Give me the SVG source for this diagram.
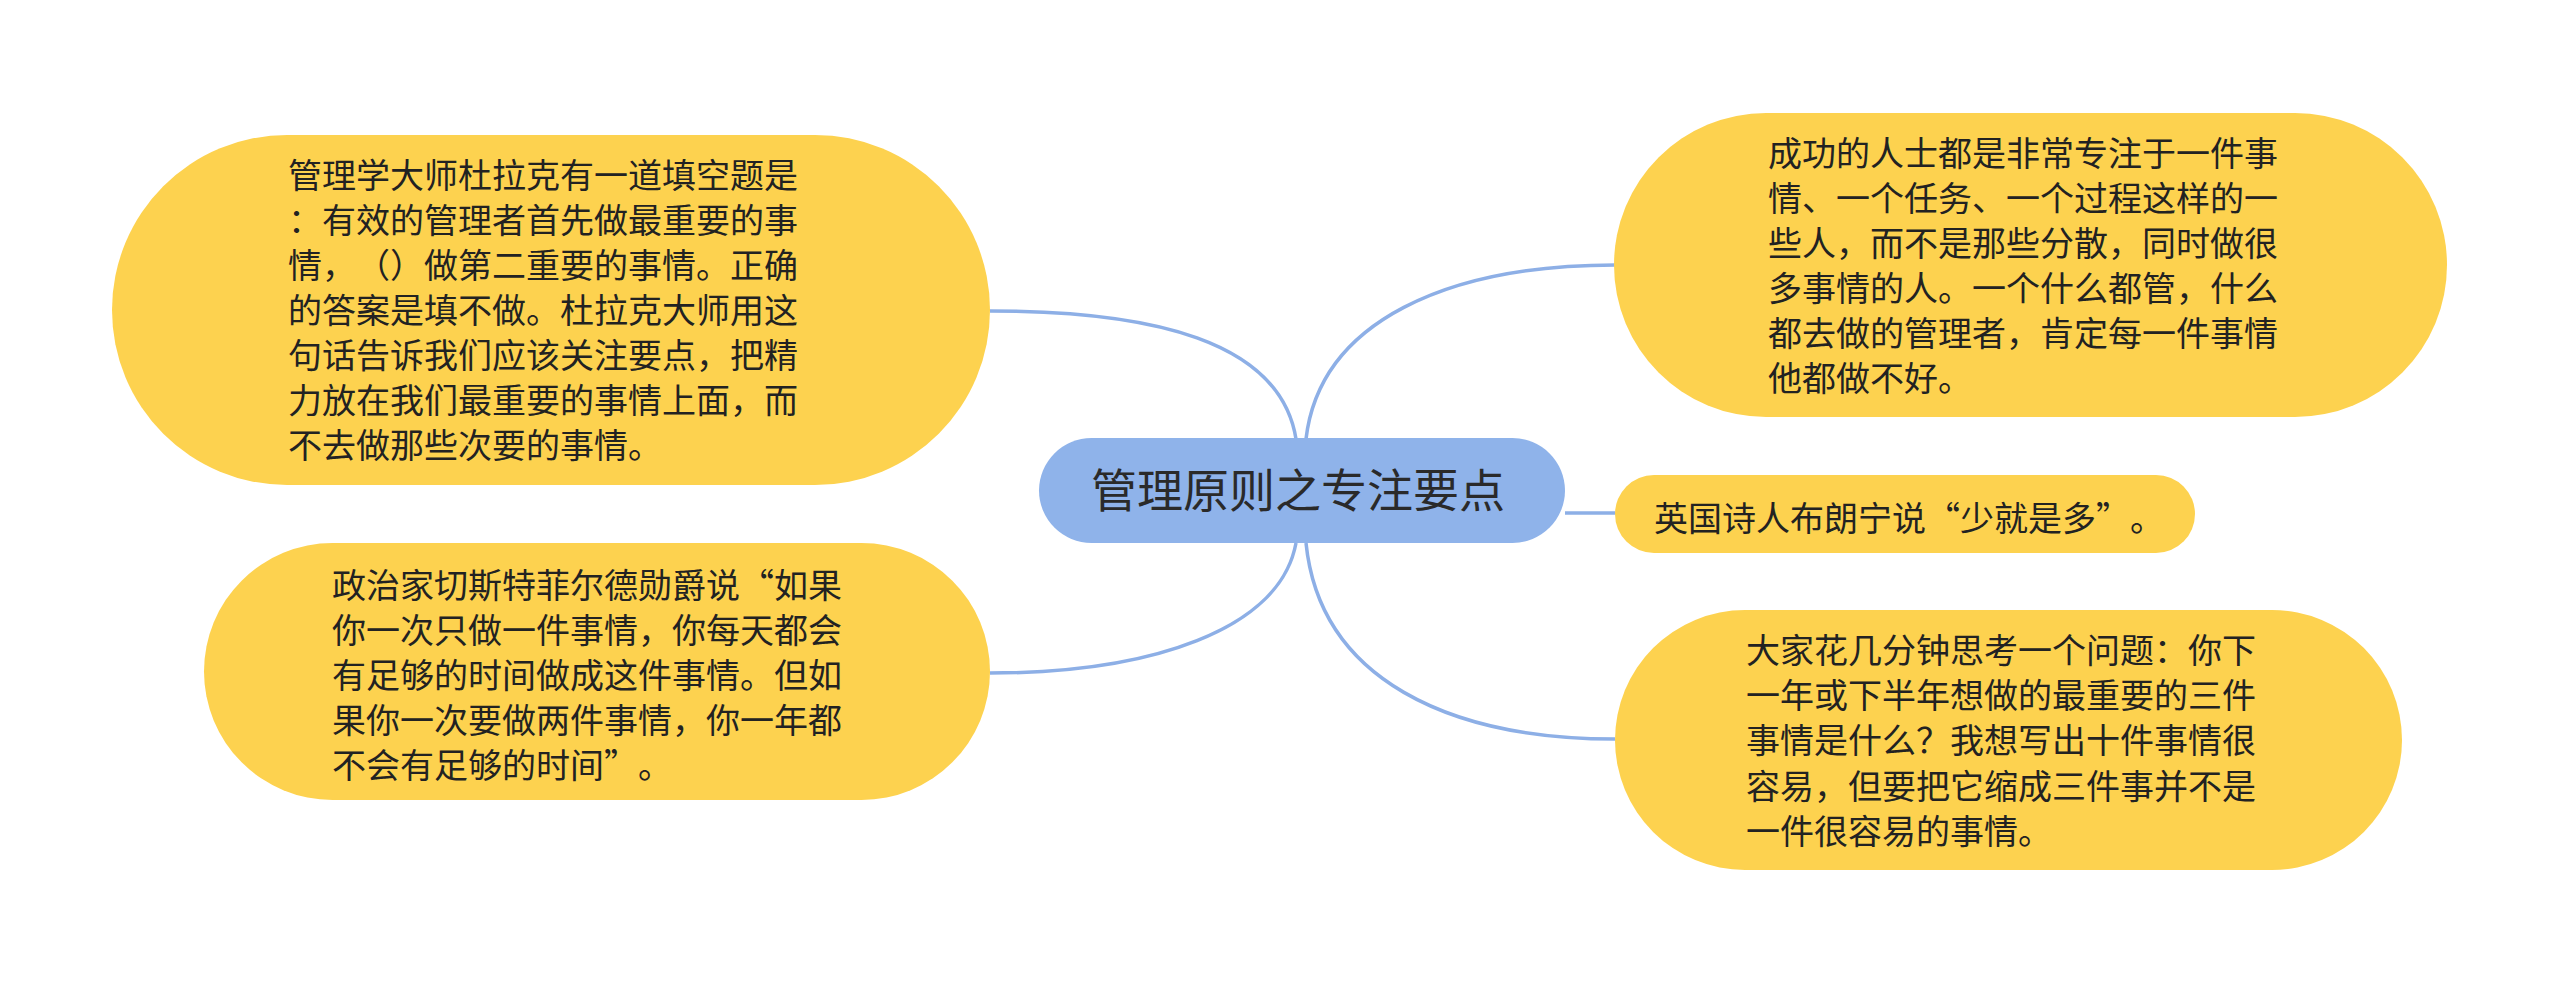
<svg xmlns="http://www.w3.org/2000/svg" width="2560" height="983" viewBox="0 0 2560 983">
<style>
.leaf{fill:#fdd24f;}
.root{fill:#8fb3ea;}
.t{font-family:"Noto Sans CJK SC","Noto Sans",sans-serif;font-size:34px;fill:#222222;text-spacing-trim:space-all;}
.rt{font-family:"Noto Sans CJK SC","Noto Sans",sans-serif;font-size:46px;fill:#2a2a2a;}
.edge{fill:none;stroke:#8dafe6;stroke-width:3.5;}
</style>
<rect x="0" y="0" width="2560" height="983" fill="#ffffff"/>
<g id="connectors">
<path class="edge" d="M1296,439 C1280,340 1150,311 990,311"/>
<path class="edge" d="M1296,543 C1280,630 1150,673 990,673"/>
<path class="edge" d="M1306,439 C1320,320 1450,265 1615,265"/>
<path class="edge" d="M1565,513 L1615,513"/>
<path class="edge" d="M1306,543 C1320,680 1450,739 1615,739"/>
</g>
<g id="root">
<rect class="root" x="1039" y="438" width="526" height="105" rx="52.5"/>
<text class="rt" x="1298" y="507" text-anchor="middle">管理原则之专注要点</text>
</g>
<g id="node-drucker">
<rect class="leaf" x="112" y="135" width="878" height="350" rx="175"/>
<text class="t">
<tspan x="288" y="188">管理学大师杜拉克有一道填空题是</tspan>
<tspan x="288" y="233">：有效的管理者首先做最重要的事</tspan>
<tspan x="288" y="278">情，（）做第二重要的事情。正确</tspan>
<tspan x="288" y="323">的答案是填不做。杜拉克大师用这</tspan>
<tspan x="288" y="368">句话告诉我们应该关注要点，把精</tspan>
<tspan x="288" y="413">力放在我们最重要的事情上面，而</tspan>
<tspan x="288" y="458">不去做那些次要的事情。</tspan>
</text>
</g>
<g id="node-chesterfield">
<rect class="leaf" x="204" y="543" width="786" height="257" rx="128.5"/>
<text class="t">
<tspan x="332" y="598">政治家切斯特菲尔德勋爵说“如果</tspan>
<tspan x="332" y="643">你一次只做一件事情，你每天都会</tspan>
<tspan x="332" y="688">有足够的时间做成这件事情。但如</tspan>
<tspan x="332" y="733">果你一次要做两件事情，你一年都</tspan>
<tspan x="332" y="778">不会有足够的时间”。</tspan>
</text>
</g>
<g id="node-success">
<rect class="leaf" x="1614" y="113" width="833" height="304" rx="152"/>
<text class="t">
<tspan x="1768" y="166">成功的人士都是非常专注于一件事</tspan>
<tspan x="1768" y="211">情、一个任务、一个过程这样的一</tspan>
<tspan x="1768" y="256">些人，而不是那些分散，同时做很</tspan>
<tspan x="1768" y="301">多事情的人。一个什么都管，什么</tspan>
<tspan x="1768" y="346">都去做的管理者，肯定每一件事情</tspan>
<tspan x="1768" y="391">他都做不好。</tspan>
</text>
</g>
<g id="node-browning">
<rect class="leaf" x="1615" y="475" width="580" height="78" rx="39"/>
<text class="t" x="1654" y="531">英国诗人布朗宁说“少就是多”。</text>
</g>
<g id="node-think">
<rect class="leaf" x="1615" y="610" width="787" height="260" rx="130"/>
<text class="t">
<tspan x="1746" y="663">大家花几分钟思考一个问题：你下</tspan>
<tspan x="1746" y="708">一年或下半年想做的最重要的三件</tspan>
<tspan x="1746" y="753">事情是什么？我想写出十件事情很</tspan>
<tspan x="1746" y="799">容易，但要把它缩成三件事并不是</tspan>
<tspan x="1746" y="844">一件很容易的事情。</tspan>
</text>
</g>
</svg>
